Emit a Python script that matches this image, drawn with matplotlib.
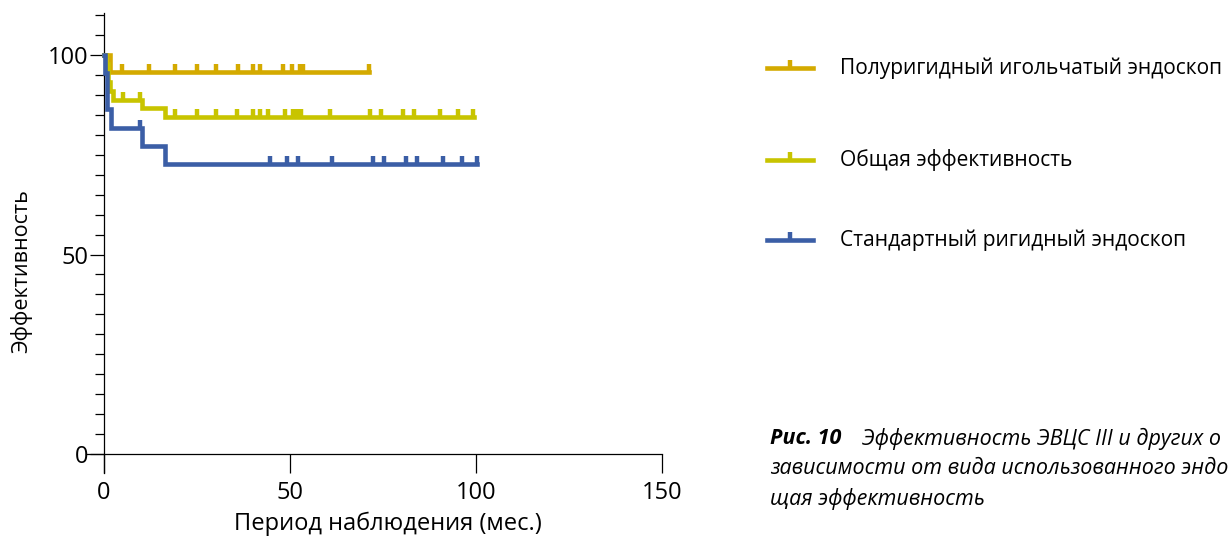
import numpy as np
import matplotlib
matplotlib.use("Agg")
import matplotlib.pyplot as plt
from matplotlib.lines import Line2D
from matplotlib.ticker import FixedLocator

plt.rcParams['font.family'] = ['Open Sans', 'DejaVu Sans']

# Kaplan-Meier: Zeitpunkte der Stufen (Monate) und Anteil (%)
gold_t = [0, 1.6]
gold_s = [100, 95.7]
gold_end = 71.3
gold_cens = [5, 12, 19, 25, 30, 36, 40, 42, 48, 50.5, 52.7, 53.5, 71.3]

green_t = [0, 0.6, 1.0, 1.6, 2.4, 10.2, 16.4]
green_s = [100, 97.8, 93.3, 91.1, 88.9, 86.7, 84.4]
green_end = 99.5
green_cens = [5.2, 9.7, 19.1, 24.9, 30.1, 35.7, 40, 41.9, 44.1, 48.7, 50.9, 51.8,
              53.1, 60.8, 71.5, 74.6, 80.5, 83.4, 90.3, 95.2, 99.1]

blue_t = [0, 0.4, 0.8, 1.9, 10.2, 16.4]
blue_s = [100, 95.5, 86.4, 81.8, 77.3, 72.7]
blue_end = 100.2
blue_cens = [9.7, 44.6, 49.1, 52.2, 61.2, 72.2, 75.3, 81.2, 84.1, 91.2, 96.2, 100.2]

labels = ["Полуригидный игольчатый эндоскоп", "Общая эффективность",
          "Стандартный ригидный эндоскоп"]
colors = ["#D4AA00", "#C8C400", "#3B5EA6"]

# sichtbarer Ausschnitt der Bildunterschrift (rechts beschnitten wie im Original)
caption = ["Эффективность ЭВЦС III и других о",
           "зависимости от вида использованного эндо",
           "щая эффективность"]

series = [(gold_t, gold_s, gold_end, gold_cens),
          (green_t, green_s, green_end, green_cens),
          (blue_t, blue_s, blue_end, blue_cens)]

fig = plt.figure(figsize=(12.29, 5.37), dpi=100)
ax = fig.add_axes([0.0700, 0.1192, 0.4687, 0.8558])

for i in [1, 0, 2]:
    t, s, end, cens = series[i]
    t = np.array(t, float); s = np.array(s, float)
    ax.step(np.append(t, end), np.append(s, s[-1]), where="post",
            color=colors[i], lw=3.3, solid_joinstyle="miter", zorder=3 + i)
    c = np.array(cens, float)
    cy = s[np.searchsorted(t, c, side="right") - 1]
    ax.plot(c, cy, ls="none", marker=2, ms=6, mew=3.2, color=colors[i], zorder=3 + i)

ax.set_xlim(-4.8, 150)
ax.set_ylim(-4.8, 110.5)
for sp in ["top", "right"]:
    ax.spines[sp].set_visible(False)
ax.spines["left"].set_position(("data", 0))
ax.spines["bottom"].set_position(("data", 0))
for sp in ["left", "bottom"]:
    ax.spines[sp].set_linewidth(0.9)

ax.set_xticks([0, 50, 100, 150])
ax.set_yticks([0, 50, 100])
ax.yaxis.set_minor_locator(FixedLocator([v for v in range(5, 111, 5) if v % 50]))
ax.tick_params(axis="x", which="major", length=13.5, width=0.9, labelsize=17, pad=6)
ax.tick_params(axis="y", which="major", length=10, width=0.9, labelsize=17, pad=1)
ax.tick_params(axis="y", which="minor", length=6.5, width=0.9)

ax.set_xlabel("Период наблюдения (мес.)", fontsize=17)
ax.xaxis.set_label_coords(0.524, -0.085)
ax.set_ylabel("Эффективность", fontsize=15.5)
ax.yaxis.set_label_coords(-0.093, 0.44)

# Legende von Hand (ungleiche Abstaende wie im Original)
leg_y = [68, 160, 240]
for i, yy in enumerate(leg_y):
    yf = 1 - yy / 537
    fig.add_artist(Line2D([767 / 1229, 813 / 1229], [yf, yf], transform=fig.transFigure,
                          color=colors[i], lw=3.3))
    fig.add_artist(Line2D([790 / 1229], [yf], transform=fig.transFigure, ls="none",
                          marker=2, ms=6, mew=3.2, color=colors[i]))
    fig.text(840 / 1229, yf, labels[i], fontsize=15.1, va="center", ha="left")

fig.text(770 / 1229, 1 - 439 / 537, "Рис. 10", fontsize=15.5, style="italic",
         weight="bold", va="center", ha="left")
for k, (line, yy) in enumerate(zip(caption, [439, 469, 499])):
    x0 = 862 if k == 0 else 770
    fig.text(x0 / 1229, 1 - yy / 537, line, fontsize=15.5, style="italic",
             va="center", ha="left")

fig.savefig("out.png", dpi=100)
